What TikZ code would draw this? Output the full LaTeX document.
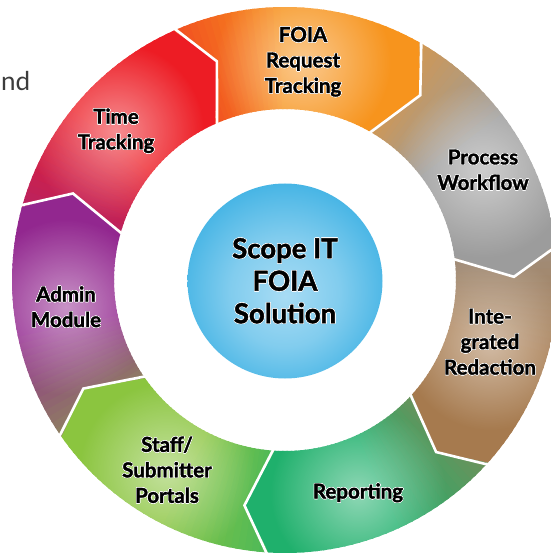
\documentclass[tikz,border=0pt]{standalone}
\usepackage{fontspec}
\setmainfont{Lato}
\usepackage{contour}
\contourlength{0.5pt}
\usetikzlibrary{fadings}

\definecolor{cRed}{HTML}{ED1C24}
\definecolor{cOrange}{HTML}{F7941D}
\definecolor{cGray}{HTML}{9C9C9C}
\definecolor{cBrown}{HTML}{A67A4E}
\definecolor{cGreen}{HTML}{1FB06C}
\definecolor{cLime}{HTML}{8BC53F}
\definecolor{cPurple}{HTML}{92278F}
\definecolor{cBlue}{HTML}{27A8E0}
\definecolor{cBlueLight}{HTML}{A8DCF4}
\definecolor{cWord}{HTML}{3C3C3C}

% soft light spot on each ring segment
\tikzfading[name=glowfade, inner color=transparent!50, outer color=transparent!100]

% centre disc shading
\pgfdeclareradialshading{hubshade}{\pgfpoint{0bp}{-4bp}}{%
  color(0bp)=(cBlueLight); color(14bp)=(cBlueLight!70!cBlue);
  color(34bp)=(cBlue); color(50bp)=(cBlue)}

\def\Ro{273}
\def\Ri{171}
\def\Rt{229}
\def\tipd{6.7}

\newcommand\heavy{\bfseries\addfontfeature{FakeBold=1.6}}

\tikzset{
  lbl/.style={align=center, font=\heavy\fontsize{20.5}{25.5}\selectfont,
    text=black, inner sep=0pt},
  hublbl/.style={align=center, font=\heavy\fontsize{27.5}{32.5}\selectfont,
    text=black, inner sep=0pt},
  gap/.style={draw=white, line width=2.6pt, line join=miter},
}

\newcommand\hl[1]{\contour{white}{#1}}

% ring segment: #1 start angle, #2 end angle, #3 colour,
% #4 colour of the preceding segment, #5 centre of the light spot
\newcommand\ringseg[5]{%
  \begin{scope}
    \clip (#1:\Ro) arc[start angle=#1, end angle=#2, radius=\Ro]
      -- (#2-\tipd:\Rt) -- (#2:\Ri)
      arc[start angle=#2, end angle=#1, radius=\Ri]
      -- (#1-\tipd:\Rt) -- cycle;
    \foreach \k in {0,...,46} {
      \pgfmathsetmacro\ang{#1+3-\k*1.5}
      \pgfmathsetmacro\mixp{max(0,min(58,58*(1-(#1-\ang)/24)))}
      \fill[#4!\mixp!#3] (0,0) -- (\ang+1:290)
        arc[start angle=\ang+1, end angle=\ang-1, radius=290] -- cycle;
    }
    \fill[white, path fading=glowfade] (#5) circle (88);
  \end{scope}
}

\begin{document}
\begin{tikzpicture}[x=1pt, y=1pt]
  \useasboundingbox (-285,-274) rectangle (266,280);
  \clip (-285,-274) rectangle (266,280);

  % label positions
  \coordinate (pTime)  at (-169,149);
  \coordinate (pFoia)  at (18,218);
  \coordinate (pProc)  at (198,110);
  \coordinate (pRed)   at (205,-62);
  \coordinate (pRep)   at (73,-213);
  \coordinate (pStaff) at (-118,-190);
  \coordinate (pAdmin) at (-219,-27);

  % ring
  \ringseg{164.5}{114}{cRed}{cPurple}{pTime}
  \ringseg{114}{60.5}{cOrange}{cRed}{pFoia}
  \ringseg{60.5}{7.5}{cGray}{cOrange}{pProc}
  \ringseg{7.5}{-42}{cBrown}{cGray}{pRed}
  \ringseg{-42}{-93.5}{cGreen}{cBrown}{pRep}
  \ringseg{-93.5}{-145}{cLime}{cGreen}{pStaff}
  \ringseg{-145}{-195.5}{cPurple}{cLime}{pAdmin}

  % white chevron gaps between segments
  \foreach \b in {164.5,114,60.5,7.5,-42,-93.5,-145}
    \draw[gap] (\b:\Ro+4) -- (\b-\tipd:\Rt) -- (\b:\Ri-4);

  % centre disc
  \shade[shading=hubshade] (0,-1) circle (97.5);
  \node[hublbl] (hub) at (0,-1) {\hl{Scope IT}\\\hl{FOIA}\\\hl{Solution}};

  % segment labels
  \node[lbl] (time)  at (pTime)  {\hl{Time}\\\hl{Tracking}};
  \node[lbl] (foia)  at (pFoia)  {\hl{FOIA}\\\hl{Request}\\\hl{Tracking}};
  \node[lbl] (proc)  at (pProc)  {\hl{Process}\\\hl{Workflow}};
  \node[lbl] (redac) at (pRed)   {\hl{Inte-}\\\hl{grated}\\\hl{Redaction}};
  \node[lbl] (rep)   at (pRep)   {\hl{Reporting}};
  \node[lbl] (staff) at (pStaff) {\hl{Staff/}\\\hl{Submitter}\\\hl{Portals}};
  \node[lbl] (admin) at (pAdmin) {\hl{Admin}\\\hl{Module}};

  % word fragment at the upper left
  \node[anchor=base west, inner sep=0pt, text=cWord,
        font=\fontsize{26}{30}\selectfont] (frag) at (-284,189) {nd};
\end{tikzpicture}
\end{document}
